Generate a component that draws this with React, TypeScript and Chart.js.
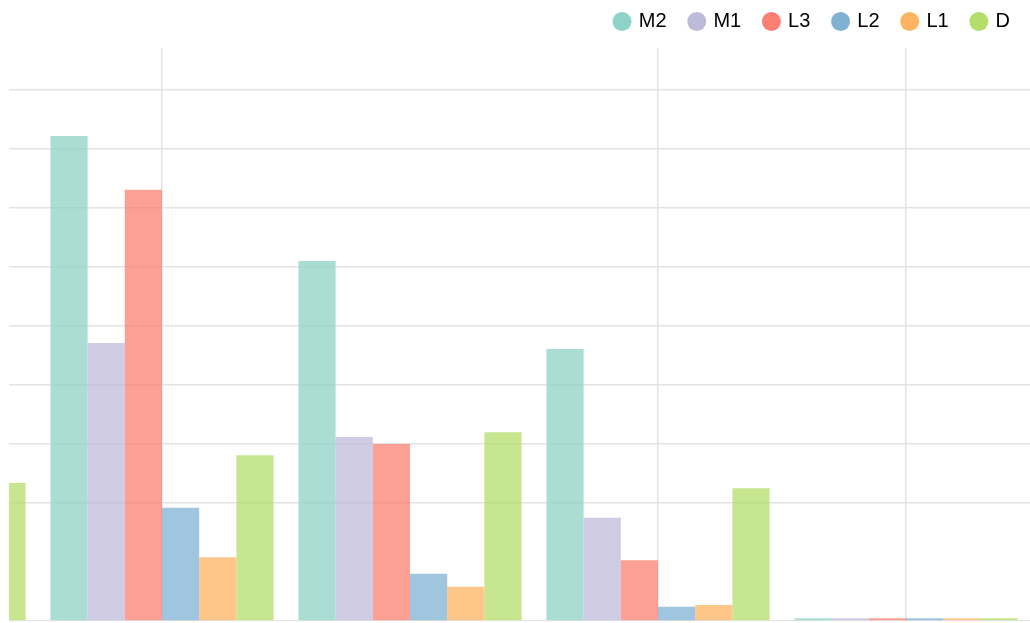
import React, { useEffect, useRef } from "react";
import { Chart, registerables } from "chart.js";

Chart.register(...registerables);

const categories = ["1", "2", "3", "4", "5"];
const seriesNames = ["M2", "M1", "L3", "L2", "L1", "D"];
const m2Values = [30, 82.2, 61.0, 46.1, 0.45];
const m1Values = [20, 47.1, 31.2, 17.5, 0.45];
const l3Values = [25, 73.1, 30.0, 10.3, 0.45];
const l2Values = [10, 19.2, 8.0, 2.4, 0.45];
const l1Values = [8, 10.8, 5.8, 2.7, 0.45];
const dValues = [23.4, 28.1, 32.0, 22.5, 0.45];
const seriesColors = ["#8dd3c7", "#bebada", "#fb8072", "#80b1d3", "#fdb462", "#b3de69"];
const yTicksHidden = [10];

function withAlpha(hex: string, a: number) {
  const r = parseInt(hex.slice(1, 3), 16);
  const g = parseInt(hex.slice(3, 5), 16);
  const b = parseInt(hex.slice(5, 7), 16);
  return `rgba(${r},${g},${b},${a})`;
}

const LEGEND_HEIGHT = 60;
const LEGEND_SHIFT = 4.5;

const legendHeightPlugin = {
  id: "legendHeight",
  beforeInit(chart: any) {
    const legend = chart.legend;
    if (!legend) return;
    const origFit = legend.fit;
    legend.fit = function () {
      origFit.call(this);
      this.height = LEGEND_HEIGHT;
      if (Array.isArray(this.lineWidths)) {
        this.lineWidths = this.lineWidths.map((w: number) => w + 1);
      }
    };
  },
  afterLayout(chart: any) {
    const legend = chart.legend;
    if (!legend) return;
    legend.right = legend.left + legend.width + LEGEND_SHIFT;
  },
};

export default function App() {
  const ref = useRef<HTMLCanvasElement | null>(null);
  useEffect(() => {
    if (!ref.current) return;
    const all = [m2Values, m1Values, l3Values, l2Values, l1Values, dValues];
    const chart = new Chart(ref.current, {
      type: "bar",
      data: {
        labels: categories,
        datasets: all.map((vals, i) => ({
          label: seriesNames[i],
          data: vals,
          backgroundColor: withAlpha(seriesColors[i], 0.75),
          borderWidth: 0,
          categoryPercentage: 0.9,
          barPercentage: 1.0,
        })),
      },
      options: {
        animation: false,
        responsive: false,
        layout: { padding: 0 },
        plugins: {
          tooltip: { enabled: false },
          legend: {
            position: "top",
            align: "end",
            labels: {
              usePointStyle: true,
              pointStyle: "circle",
              boxWidth: 13.4,
              boxHeight: 13.4,
              padding: 23.5,
              color: "#000",
              font: { family: "'Liberation Sans', Arial, sans-serif", size: 20 },
              generateLabels: (c: any) =>
                c.data.datasets.map((ds: any, i: number) => ({
                  text: ds.label,
                  fillStyle: seriesColors[i],
                  strokeStyle: seriesColors[i],
                  lineWidth: 0,
                  pointStyle: "circle",
                  hidden: false,
                  datasetIndex: i,
                  fontColor: "#000",
                })),
            },
          },
        },
        scales: {
          x: {
            display: true,
            grid: {
              offset: false,
              drawTicks: false,
              color: (ctx: any) =>
                ctx.index === 1 || ctx.index === 3 || ctx.index === 4 ? "#e3e3e3" : "rgba(0,0,0,0)",
              lineWidth: 1.5,
            },
            border: { display: true, color: "#e3e3e3", width: 1.5 },
            ticks: { display: false },
          },
          y: {
            display: true,
            min: 0,
            max: 97.1,
            ticks: { display: false, stepSize: 10 },
            grid: {
              drawTicks: false,
              color: (ctx: any) => {
                const v = ctx.tick ? ctx.tick.value : 0;
                if (v === 0 || v > 90.5 || yTicksHidden.includes(v)) return "rgba(0,0,0,0)";
                return "#e3e3e3";
              },
              lineWidth: 1.5,
            },
            border: { display: false },
          },
        },
      },
      plugins: [legendHeightPlugin],
    });
    return () => chart.destroy();
  }, []);

  return (
    <div
      style={{
        position: "fixed",
        left: 0,
        top: 0,
        width: 1030,
        height: 623,
        background: "#fff",
        overflow: "hidden",
      }}
    >
      <div
        style={{
          position: "absolute",
          left: 9,
          top: 0,
          width: 1021,
          height: 623,
          overflow: "hidden",
        }}
      >
        <canvas
          ref={ref}
          width={1240}
          height={633}
          style={{ position: "absolute", left: -219, top: -12, width: 1240, height: 633 }}
        />
      </div>
    </div>
  );
}
